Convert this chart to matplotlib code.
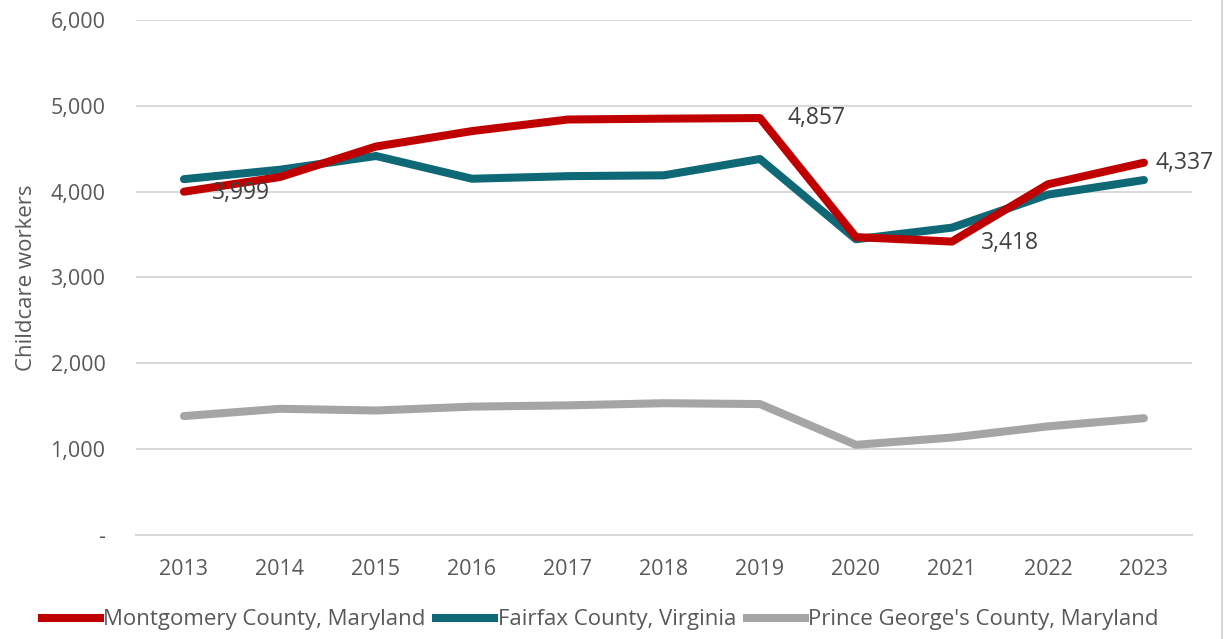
import matplotlib
matplotlib.use("Agg")
import matplotlib.pyplot as plt
from matplotlib.lines import Line2D
from matplotlib.ticker import FuncFormatter

plt.rcParams['font.family'] = ['Open Sans', 'DejaVu Sans']

years = ["2013", "2014", "2015", "2016", "2017", "2018", "2019", "2020", "2021", "2022", "2023"]
montgomery = [3999, 4170, 4525, 4705, 4840, 4850, 4857, 3470, 3418, 4085, 4337]
fairfax = [4145, 4255, 4415, 4150, 4180, 4190, 4380, 3445, 3580, 3965, 4135]
prince_georges = [1385, 1470, 1450, 1495, 1510, 1535, 1525, 1050, 1135, 1265, 1360]

series_names = ["Montgomery County, Maryland", "Fairfax County, Virginia",
                "Prince George's County, Maryland"]
colors = ["#C00000", "#0F6875", "#A5A5A5"]

# labelled points on the Montgomery line (index into years) and their text offsets
label_idx = [0, 6, 8, 10]
label_off = [(20, -1), (20, 0), (21, -1), (8.5, 0)]

text_color = "#595959"


def fmt(v, pos):
    if v == 0:
        return "-"
    return "{:,.0f}".format(v)


fig = plt.figure(figsize=(12.25, 6.39), dpi=100)
ax = fig.add_axes([0.111, 0.1628, 0.862, 0.806])

x = list(range(len(years)))
for vals, c in zip([prince_georges, fairfax, montgomery], colors[::-1]):
    ax.plot(x, vals, color=c, lw=5.8, solid_capstyle="round", solid_joinstyle="round", zorder=3)

for i, off in zip(label_idx, label_off):
    ax.annotate("{:,}".format(montgomery[i]), (x[i], montgomery[i]),
                xytext=off, textcoords="offset points",
                ha="left", va="center", fontsize=16.5, color="#404040",
                annotation_clip=False, zorder=4)

ax.set_xlim(-0.5, len(years) - 0.5)
ax.set_ylim(0, 6000)
ax.set_yticks(range(0, 6001, 1000))
ax.yaxis.set_major_formatter(FuncFormatter(fmt))
ax.set_xticks(x)
ax.set_xticklabels(years)
ax.grid(axis="y", color="#D9D9D9", lw=1.4, zorder=0)
ax.set_axisbelow(True)
for s in ["top", "right", "left"]:
    ax.spines[s].set_visible(False)
ax.spines["bottom"].set_color("#D9D9D9")
ax.spines["bottom"].set_linewidth(1.4)
ax.tick_params(axis="both", length=0, labelsize=15.5, labelcolor=text_color)
ax.tick_params(axis="x", pad=17)
ax.tick_params(axis="y", pad=22)
ax.set_ylabel("Childcare workers", fontsize=16, color=text_color, labelpad=10)

handles = [Line2D([0], [0], color=c, lw=5.8) for c in colors]
fig.legend(handles, series_names, loc="center", bbox_to_anchor=(0.49, 0.03),
           ncol=3, frameon=False, fontsize=16, labelcolor=text_color,
           handlelength=2.6, handletextpad=0.15, columnspacing=0.5)

# thin border on the right edge like the source image
fig.add_artist(Line2D([0.9975, 0.9975], [0, 1], color="#D0D0D0", lw=1.2, transform=fig.transFigure))

fig.savefig("out.png", dpi=100, facecolor="white")
